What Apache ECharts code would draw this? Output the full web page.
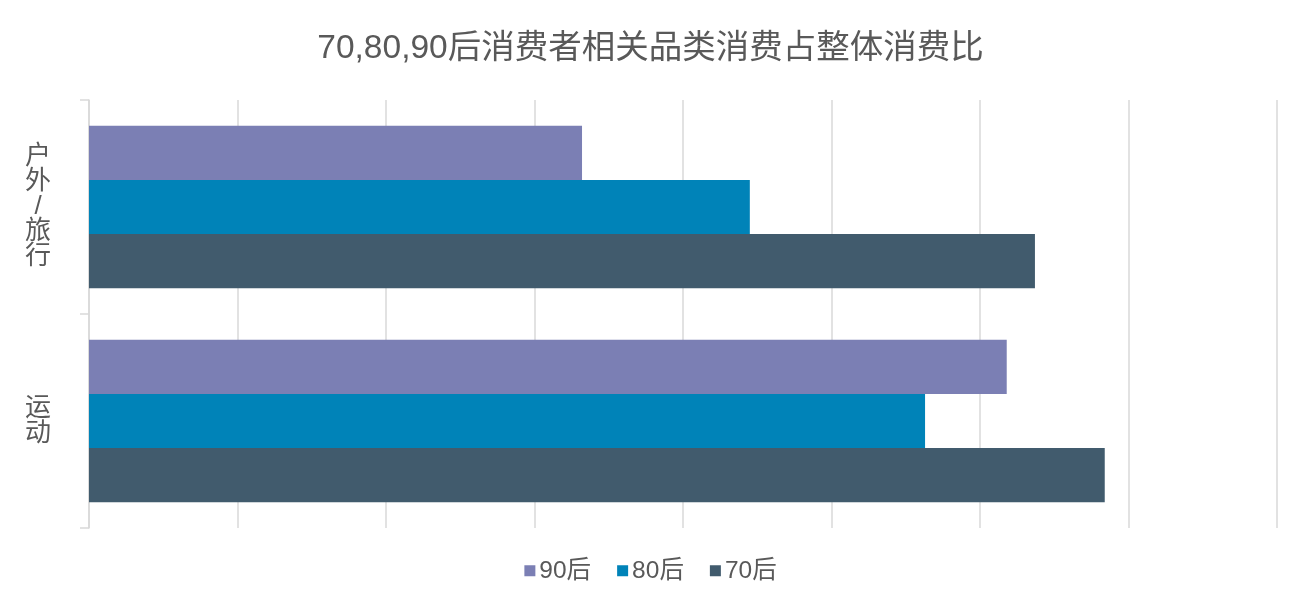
<!DOCTYPE html>
<html>
<head>
<meta charset="utf-8">
<script src="https://cdn.jsdelivr.net/npm/echarts@6/dist/echarts.min.js"></script>
<style>
html,body{margin:0;padding:0;background:#fff;}
#chart{width:1301px;height:605px;}
</style>
</head>
<body>
<div id="chart"></div>
<script>
const titleText = '70,80,90后消费者相关品类消费占整体消费比';
const categories = ['户外/旅行', '运动'];
const categoryLabels = ['户\n外\n/\n旅\n行', '运\n动'];
const seriesNames = ['90后', '80后', '70后'];
const values90 = [3.32, 6.18];
const values80 = [4.45, 5.63];
const values70 = [6.37, 6.84];
const colors = ['#7B7FB4', '#0083B8', '#415B6D'];

const labelMap = {};
categories.forEach((c, i) => { labelMap[c] = categoryLabels[i]; });

const FONT = '"Liberation Sans", "Noto Sans CJK SC", sans-serif';
const chart = echarts.init(document.getElementById('chart'));
const dataSets = [values90, values80, values70];
chart.setOption({
  animation: false,
  title: {
    text: titleText,
    left: 'center',
    top: 27,
    textStyle: { fontFamily: FONT, fontSize: 33.5, fontWeight: 'normal', color: '#595959' }
  },
  legend: {
    data: seriesNames,
    bottom: 17,
    left: 'center',
    itemWidth: 11,
    itemHeight: 11,
    itemGap: 26,
    icon: 'rect',
    textStyle: { fontFamily: FONT, fontSize: 24.5, color: '#595959', padding: [0, 0, 0, -1] }
  },
  grid: { left: 89, right: 24, top: 100, bottom: 77, containLabel: false },
  xAxis: {
    type: 'value',
    min: 0, max: 8, interval: 1,
    axisLine: { show: false },
    axisTick: { show: false },
    axisLabel: { show: false },
    splitLine: { lineStyle: { color: '#D9D9D9', width: 1.5 } }
  },
  yAxis: {
    type: 'category',
    data: categories,
    inverse: true,
    axisLine: { show: true, lineStyle: { color: '#D9D9D9', width: 1.5 } },
    axisTick: { show: true, inside: false, alignWithLabel: false, length: 9, lineStyle: { color: '#D9D9D9', width: 1.5 } },
    axisLabel: {
      formatter: v => labelMap[v],
      align: 'center',
      margin: 51,
      fontFamily: FONT,
      fontSize: 26,
      lineHeight: 25,
      color: '#595959'
    }
  },
  series: seriesNames.map((n, i) => ({
    name: n,
    type: 'bar',
    data: dataSets[i],
    barGap: '0%',
    barCategoryGap: '24%',
    itemStyle: { color: colors[i] }
  }))
});
</script>
</body>
</html>
